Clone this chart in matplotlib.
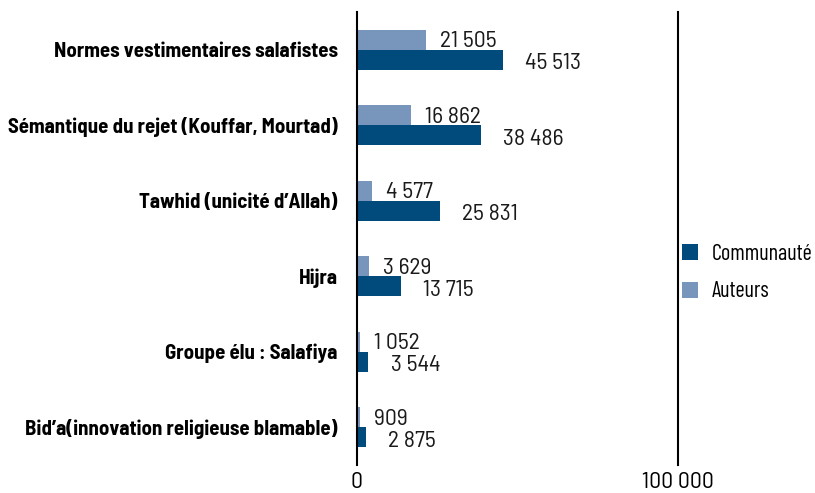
import matplotlib
matplotlib.use("Agg")
import matplotlib.pyplot as plt
import numpy as np

plt.rcParams["font.family"] = ["Barlow Semi Condensed", "DejaVu Sans"]

categories = [
    "Normes vestimentaires salafistes",
    "Sémantique du rejet (Kouffar, Mourtad)",
    "Tawhid (unicité d’Allah)",
    "Hijra",
    "Groupe élu : Salafiya",
    "Bid’a(innovation religieuse blamable)",
]
auteurs = [21505, 16862, 4577, 3629, 1052, 909]
communaute = [45513, 38486, 25831, 13715, 3544, 2875]

DARK = "#004A7C"
LIGHT = "#7896BC"


def fmt(v):
    return f"{v:,}".replace(",", " ")


fig = plt.figure(figsize=(8.15, 4.93), dpi=100)
ax = fig.add_axes([0.438, 0.057, 0.394, 0.919])

y = np.arange(len(categories))
h = 0.265
ax.barh(y - h / 2, auteurs, height=h, color=LIGHT, label="Auteurs")
ax.barh(y + h / 2, communaute, height=h, color=DARK, label="Communauté")

# value labels, Auteurs on top, Communauté a bit further out and lower
for yi, a, c in zip(y, auteurs, communaute):
    ax.annotate(fmt(a), (a, yi - h / 2), xytext=(10, -1.5), textcoords="offset points",
                ha="left", va="center", fontsize=17, color="#1a1a1a")
    ax.annotate(fmt(c), (c, yi + h / 2), xytext=(16, -3), textcoords="offset points",
                ha="left", va="center", fontsize=17, color="#1a1a1a")

ax.set_xlim(0, 100000)
ax.set_ylim(len(categories) - 0.5, -0.5)
ax.set_yticks(y)
ax.set_yticklabels(categories, fontsize=15, fontweight="bold")
ax.set_xticks([0, 100000])
ax.set_xticklabels(["0", "100 000"], fontsize=17)
ax.tick_params(length=0, pad=5)
ax.tick_params(axis="y", pad=14)
for s in ["top", "bottom"]:
    ax.spines[s].set_visible(False)
for s in ["left", "right"]:
    ax.spines[s].set_linewidth(1.5)
    ax.spines[s].set_color("black")

handles, labels = ax.get_legend_handles_labels()
fig.legend(handles[::-1], labels[::-1], loc="center left", bbox_to_anchor=(0.812, 0.446),
           frameon=False, prop={"family": "Barlow Condensed", "size": 16},
           handlelength=0.75, handleheight=0.75, handletextpad=0.6, labelspacing=0.75)

fig.savefig("out.png", dpi=100)
